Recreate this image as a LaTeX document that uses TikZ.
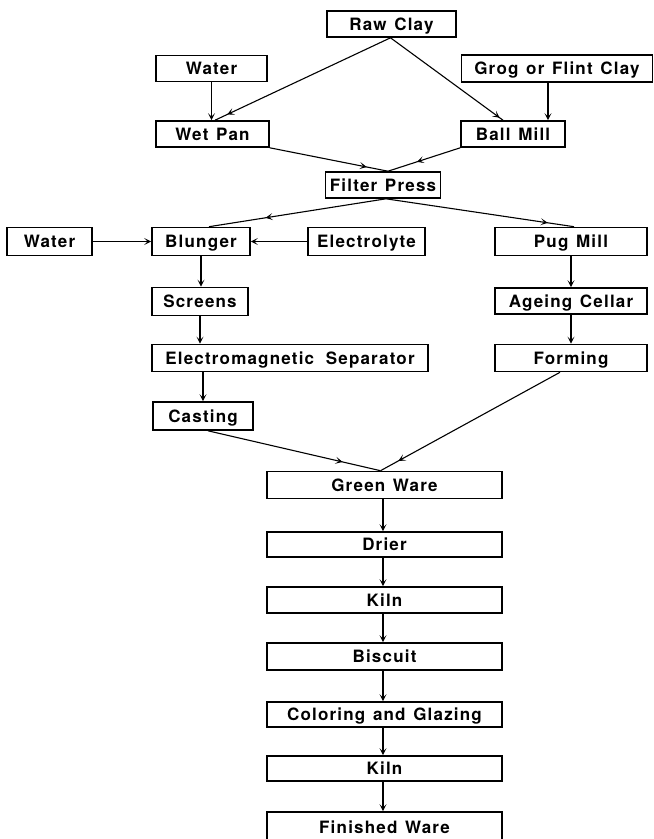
\documentclass[tikz,border=0pt]{standalone}
\usepackage{fontspec}
\setmainfont{TeX Gyre Heros}[LetterSpace=7,WordSpace=1.3]
\usetikzlibrary{arrows.meta,decorations.markings}
\tikzset{
  box/.style={draw, line width=1.6pt, minimum height=26pt, inner sep=0pt,
    font=\fontsize{17}{19}\selectfont\bfseries, text height=12.2pt, text depth=0pt},
  flow/.style={line width=1.1pt},
  tip/.style={-{Stealth[length=7pt,width=7pt,inset=3.5pt]}},
  arrowat/.style={postaction={decorate},
    decoration={markings, mark=at position #1 with {\arrow{Stealth[length=7pt,width=7pt,inset=3.5pt]}}}}
}
\begin{document}
\begin{tikzpicture}[x=1pt,y=-1pt]
\useasboundingbox (0,0) rectangle (654,839);
\clip (0,0) rectangle (654,839);
% top
\node[box, minimum width=129pt] (raw) at (391.5,24) {Raw Clay};
\node[box, minimum width=111pt] (water1) at (211.5,68.5) {Water};
\node[box, minimum width=191pt, minimum height=27pt] (grog) at (557,68.5) {Grog or Flint Clay};
\node[box, minimum width=113pt] (wetpan) at (212.5,134) {Wet Pan};
\node[box, minimum width=104pt] (ballmill) at (513,134) {Ball Mill};
\node[box, minimum width=115pt] (filter) at (383,185) {Filter Press};
% middle
\node[box, minimum width=85pt, minimum height=28pt] (water2) at (49.5,241.5) {Water};
\node[box, minimum width=98pt, minimum height=28pt] (blunger) at (201,241.5) {Blunger};
\node[box, minimum width=117pt, minimum height=28pt] (electrolyte) at (366.5,241.5) {Electrolyte};
\node[box, minimum width=152pt, minimum height=28pt] (pug) at (571,241.5) {Pug Mill};
\node[box, minimum width=96pt, minimum height=28pt] (screens) at (200,301.5) {Screens};
\node[box, minimum width=152pt] (ageing) at (571,301) {Ageing Cellar};
\node[box, minimum width=276pt, minimum height=27pt] (ems) at (290,358) {Electromagnetic\hspace{4pt} Separator};
\node[box, minimum width=152pt, minimum height=27pt] (forming) at (571,358) {Forming};
\node[box, minimum width=100pt, minimum height=28pt] (casting) at (203,416) {Casting};
% bottom column
\node[box, minimum width=235pt, minimum height=27pt] (greenware) at (384.5,485) {Green Ware};
\node[box, minimum width=235pt, minimum height=25pt] (drier) at (384.5,544.5) {Drier};
\node[box, minimum width=235pt, minimum height=26pt] (kilnA) at (384.5,600) {Kiln};
\node[box, minimum width=235pt, minimum height=27pt] (biscuit) at (384.5,656.5) {Biscuit};
\node[box, minimum width=235pt, minimum height=25pt] (coloring) at (384.5,714.5) {Coloring and Glazing};
\node[box, minimum width=235pt, minimum height=25pt] (kilnB) at (384.5,768.5) {Kiln};
\node[box, minimum width=235pt, minimum height=30pt] (finished) at (384.5,827) {Finished Ware};
% connectors top
\draw[flow, arrowat=0.93] ([xshift=-1pt]raw.south) -- ([xshift=2.5pt]wetpan.north);
\draw[flow, arrowat=0.97] ([xshift=-1pt]raw.south) -- ([xshift=-10pt]ballmill.north);
\draw[flow, tip] (water1.south) -- (water1.south |- wetpan.north);
\draw[flow, tip] ([xshift=-9pt]grog.south) -- ([xshift=-9pt]grog.south |- ballmill.north);
\draw[flow, arrowat=0.82] (wetpan.south east) -- ([xshift=5pt]filter.north);
\draw[flow, arrowat=0.6] (ballmill.south west) -- ([xshift=5pt]filter.north);
\draw[flow, arrowat=0.68] ([xshift=3pt]filter.south) -- ([xshift=8pt]blunger.north);
\draw[flow, arrowat=0.86] ([xshift=3pt]filter.south) -- ([xshift=3pt]pug.north);
% middle
\draw[flow, tip] (water2.east) -- (water2.east -| blunger.west);
\draw[flow, tip] (electrolyte.west) -- (electrolyte.west -| blunger.east);
\draw[flow, tip] (blunger.south) -- (blunger.south |- screens.north);
\draw[flow, tip] (screens.south) -- (screens.south |- ems.north);
\draw[flow, tip] (casting.north |- ems.south) -- (casting.north);
\draw[flow, tip] (pug.south) -- (ageing.north);
\draw[flow, tip] (ageing.south) -- (forming.north);
\draw[flow, arrowat=0.78] ([xshift=5pt]casting.south) -- ([xshift=-4pt]greenware.north);
\draw[flow, arrowat=0.9] ([xshift=-11pt]forming.south) -- ([xshift=-4pt]greenware.north);
% bottom chain
\draw[flow, tip] ([xshift=-1.5pt]greenware.south) -- ([xshift=-1.5pt]drier.north);
\draw[flow, tip] ([xshift=-1.5pt]drier.south) -- ([xshift=-1.5pt]kilnA.north);
\draw[flow, tip] ([xshift=-1.5pt]kilnA.south) -- ([xshift=-1.5pt]biscuit.north);
\draw[flow, tip] ([xshift=-1.5pt]biscuit.south) -- ([xshift=-1.5pt]coloring.north);
\draw[flow, tip] ([xshift=-1.5pt]coloring.south) -- ([xshift=-1.5pt]kilnB.north);
\draw[flow, tip] ([xshift=-1.5pt]kilnB.south) -- ([xshift=-1.5pt]finished.north);
\end{tikzpicture}
\end{document}
